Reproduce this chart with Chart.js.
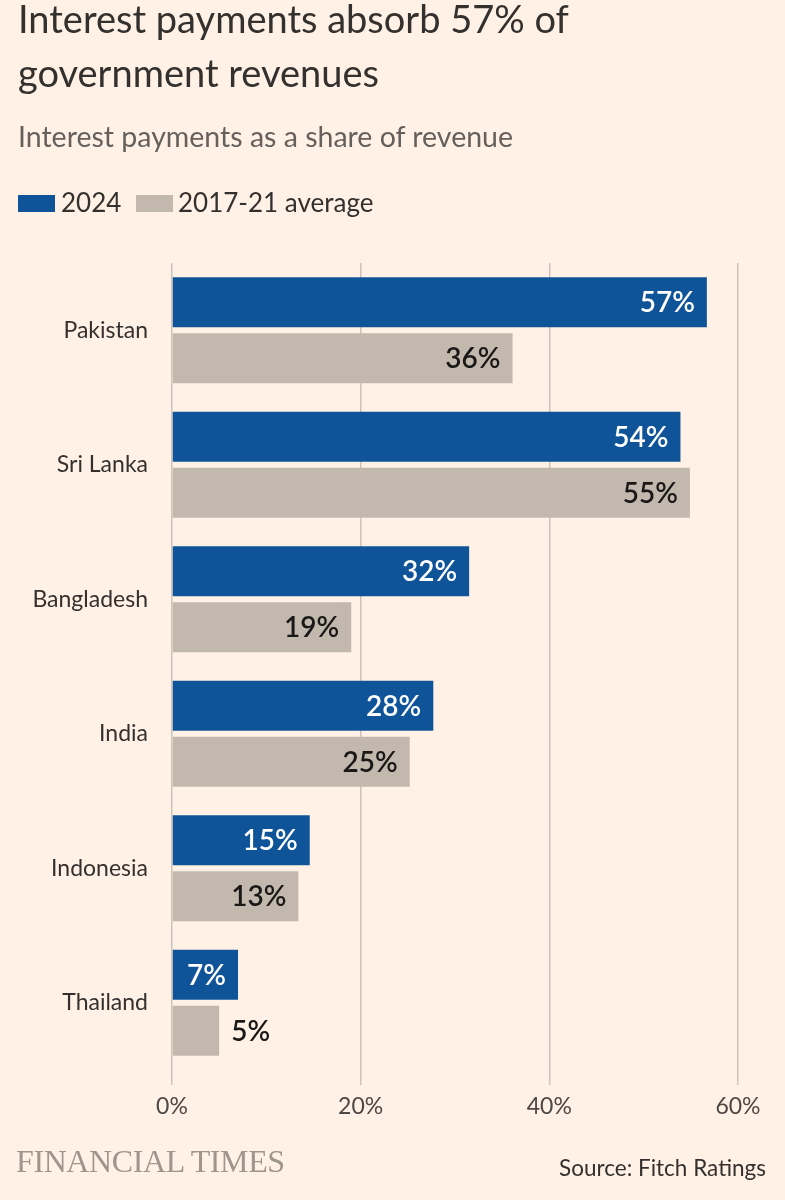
<!DOCTYPE html>
<html>
<head>
<meta charset="utf-8">
<script src="https://cdn.jsdelivr.net/npm/chart.js@4.4.1/dist/chart.umd.min.js"></script>
<style>
  html, body { margin: 0; padding: 0; background: #fff1e5; }
  #wrap { position: relative; width: 785px; height: 1200px; background: #fff1e5; overflow: hidden; font-family: Lato, "Noto Sans", sans-serif; color: #33302e; }
  #wrap canvas { position: absolute; left: 0; top: 0; }
  .txt { position: absolute; white-space: nowrap; }
  .title { left: 18px; top: -9px; font-size: 38px; line-height: 54px; color: #33302e; }
  .sub { left: 18px; top: 119px; font-size: 28.5px; line-height: 34px; color: #66605c; }
  .key { position: absolute; width: 37px; height: 17px; top: 195px; }
  .ltxt { top: 187px; font-size: 26px; line-height: 31px; color: #33302e; }
  .ft { left: 16px; top: 1142px; font-family: "Liberation Serif", "DejaVu Serif", serif; font-size: 32px; line-height: 38px; color: #9e958c; letter-spacing: -0.4px; }
  .src { right: 19px; top: 1154px; font-size: 22.5px; line-height: 27px; color: #33302e; }
</style>
</head>
<body>
<div id="wrap">
  <canvas id="grafico" width="785" height="1200"></canvas>
  <div class="txt title">Interest payments absorb 57% of<br>government revenues</div>
  <div class="txt sub">Interest payments as a share of revenue</div>
  <div class="key" id="key1" style="left:18px"></div>
  <div class="txt ltxt" style="left:61px">2024</div>
  <div class="key" id="key2" style="left:136px"></div>
  <div class="txt ltxt" style="left:178px">2017-21 average</div>
  <div class="txt ft">FINANCIAL TIMES</div>
  <div class="txt src">Source: Fitch Ratings</div>
</div>
<script>
var paises = ["Pakistan", "Sri Lanka", "Bangladesh", "India", "Indonesia", "Thailand"];
var valores2024 = [56.7, 53.9, 31.5, 27.7, 14.6, 7.0];
var valoresMedia = [36.1, 54.9, 19.0, 25.2, 13.4, 5.0];
var ticksX = [0, 20, 40, 60];

var azul = '#0f5499';
var cinza = '#c2b8ae';
document.getElementById('key1').style.background = azul;
document.getElementById('key2').style.background = cinza;

// rotulos de valor no fim de cada barra
var rotulos = {
    id: 'rotulos',
    afterDatasetsDraw: function(chart) {
        var ctx = chart.ctx;
        ctx.save();
        ctx.font = '600 28px Lato, "Noto Sans", sans-serif';
        ctx.textBaseline = 'middle';
        chart.data.datasets.forEach(function(ds, i) {
            chart.getDatasetMeta(i).data.forEach(function(bar, j) {
                var txt = Math.round(ds.data[j]) + '%';
                var w = ctx.measureText(txt).width;
                var largura = bar.x - bar.base;
                if (w + 22 < largura) {
                    ctx.textAlign = 'right';
                    ctx.fillStyle = i === 0 ? '#ffffff' : '#1a1817';
                    ctx.fillText(txt, bar.x - 12, bar.y + 1);
                } else {
                    ctx.textAlign = 'left';
                    ctx.fillStyle = '#1a1817';
                    ctx.fillText(txt, bar.x + 12, bar.y + 1);
                }
            });
        });
        ctx.restore();
    }
};

var ctx = document.getElementById('grafico').getContext('2d');
var chart = new Chart(ctx, {
    type: 'bar',
    data: {
        labels: paises,
        datasets: [{
            label: '2024',
            data: valores2024,
            backgroundColor: azul,
            borderWidth: 0,
            barPercentage: 0.893,
            categoryPercentage: 0.833
        }, {
            label: '2017-21 average',
            data: valoresMedia,
            backgroundColor: cinza,
            borderWidth: 0,
            barPercentage: 0.893,
            categoryPercentage: 0.833
        }]
    },
    options: {
        indexAxis: 'y',
        responsive: false,
        animation: false,
        layout: { padding: { top: 263, left: 18, right: 47, bottom: 80 } },
        plugins: {
            legend: { display: false },
            tooltip: { enabled: false }
        },
        scales: {
            x: {
                min: 0,
                max: 60,
                afterBuildTicks: function(scale) {
                    scale.ticks = ticksX.map(function(v) { return { value: v }; });
                },
                afterFit: function(scale) { scale.height = 50; },
                grid: { color: '#cdc3ba', lineWidth: 1.5, tickLength: 15 },
                border: { display: false },
                ticks: {
                    padding: 8,
                    color: '#4d4845',
                    font: { family: 'Lato', size: 23 },
                    callback: function(v) { return v + '%'; }
                }
            },
            y: {
                afterFit: function(scale) { scale.width = 154; },
                grid: { display: false },
                border: { display: false },
                ticks: {
                    padding: 16,
                    color: '#33302e',
                    font: { family: 'Lato', size: 23 }
                }
            }
        }
    },
    plugins: [rotulos]
});
</script>
</body>
</html>
